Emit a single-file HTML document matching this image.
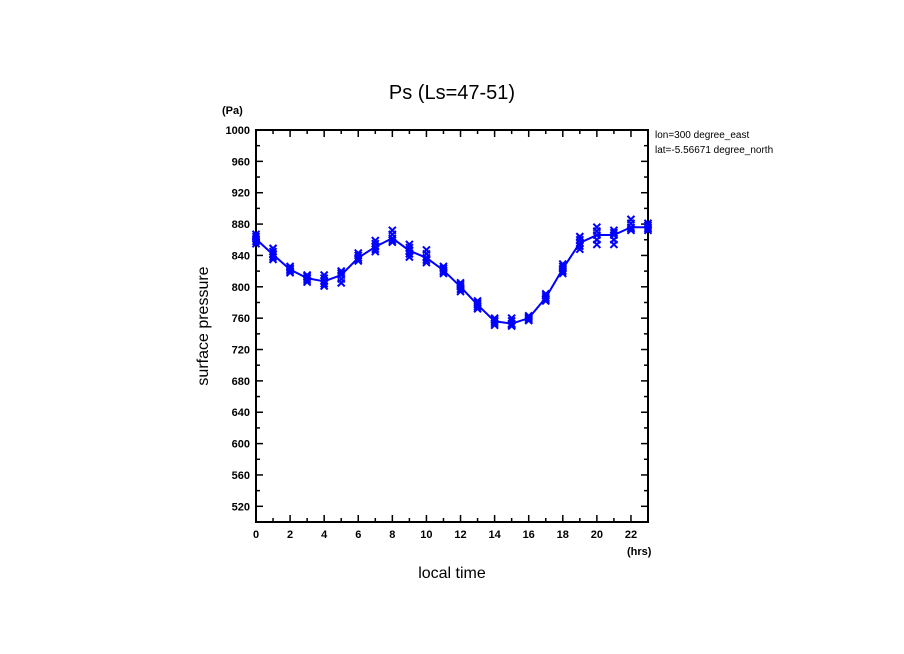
<!DOCTYPE html>
<html><head><meta charset="utf-8"><style>
body{margin:0;background:#fff;}
svg{display:block;font-family:"Liberation Sans",sans-serif;}
</style></head><body>
<svg id="c" width="904" height="654">
<defs><clipPath id="rc"><rect x="650" y="120" width="129" height="50"/></clipPath></defs>
<text x="452" y="99" font-size="20" text-anchor="middle">Ps (Ls=47-51)</text>
<text x="222" y="114" font-size="11" font-weight="bold">(Pa)</text>
<text x="627" y="555" font-size="11" font-weight="bold">(hrs)</text>
<text x="452" y="578" font-size="16" text-anchor="middle">local time</text>
<text transform="translate(208,326) rotate(-90)" font-size="16" text-anchor="middle">surface pressure</text>
<g clip-path="url(#rc)" font-size="10">
<text x="655" y="138">lon=300 degree_east</text>
<text x="655" y="153">lat=-5.56671 degree_north</text>
</g>
<g id="ax"></g>
<g id="marks"></g>
</svg>
<script>
const hours=[0,1,2,3,4,5,6,7,8,9,10,11,12,13,14,15,16,17,18,19,20,21,22,23];
const meanPs=[861,841,822,811,807,815,837,851,862,846,837,821,800,777,756,753,760,786,823,856,866,866,876,876];
const spreadLo=[-6,-6,-4,-5,-6,-10,-4,-6,-5,-8,-6,-4,-6,-5,-5,-3,-3,-4,-6,-8,-12,-12,-4,-4];
const spreadHi=[6,8,4,4,8,5,6,8,10,8,10,5,5,5,4,7,3,5,6,8,10,6,10,5];
const yTicks=[520,560,600,640,680,720,760,800,840,880,920,960,1000];
const xTicks=[0,2,4,6,8,10,12,14,16,18,20,22];
const NS='http://www.w3.org/2000/svg';
const X0=256,X1=648,Y0=522,Y1=130;
const xs=v=>X0+(v-0)/(23-0)*(X1-X0);
const ys=v=>Y0-(v-500)/(1000-500)*(Y0-Y1);
function mk(t,a,p){const e=document.createElementNS(NS,t);for(const k in a)e.setAttribute(k,a[k]);p.appendChild(e);return e;}
const ax=document.getElementById('ax'),mg=document.getElementById('marks');
const frame=mk('rect',{x:X0,y:Y1,width:X1-X0,height:Y0-Y1,fill:'none',stroke:'#000','stroke-width':2},ax);


for(let v=500;v<=1000;v+=20){const big=v%40===0;const y=ys(v);
 mk('line',{x1:X0,x2:X0+(big?7:4),y1:y,y2:y,stroke:'#000','stroke-width':1.5},ax);
 mk('line',{x1:X1,x2:X1-(big?7:4),y1:y,y2:y,stroke:'#000','stroke-width':1.5},ax);}
yTicks.forEach(v=>{const t=mk('text',{x:X0-6,y:ys(v)+4,'font-size':11,'font-weight':'bold','text-anchor':'end'},ax);t.textContent=v;
 
 });
for(let h=0;h<=23;h++){const big=h%2===0;const x=xs(h);
 mk('line',{x1:x,x2:x,y1:Y0,y2:Y0-(big?7:4),stroke:'#000','stroke-width':1.5},ax);
 mk('line',{x1:x,x2:x,y1:Y1,y2:Y1+(big?7:4),stroke:'#000','stroke-width':1.5},ax);}
xTicks.forEach(v=>{const t=mk('text',{x:xs(v),y:Y0+16,'font-size':11,'font-weight':'bold','text-anchor':'middle'},ax);t.textContent=v;
 
 });
const line=mk('polyline',{points:hours.map((h,i)=>xs(h)+','+ys(meanPs[i])).join(' '),fill:'none',stroke:'#0000ff','stroke-width':2},mg);


hours.forEach((h,i)=>{
 const vals=[meanPs[i]+spreadLo[i],meanPs[i]+spreadLo[i]/2,meanPs[i],meanPs[i]+spreadHi[i]/2,meanPs[i]+spreadHi[i]];
 vals.forEach(v=>{const x=xs(h),y=ys(v),s=3.5;
  const g=mk('path',{d:`M${x-s},${y-s}L${x+s},${y+s}M${x-s},${y+s}L${x+s},${y-s}`,stroke:'#0000ff','stroke-width':2,fill:'none'},mg);
  
  });
});
</script>
</body></html>
